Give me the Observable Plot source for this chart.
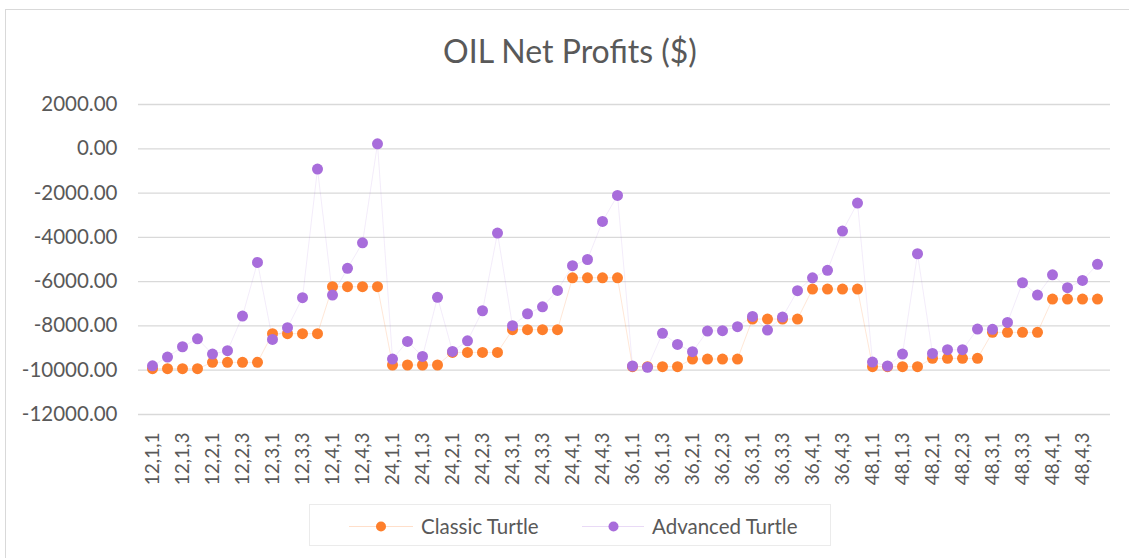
<!DOCTYPE html>
<html>
<head>
<meta charset="utf-8">
<script src="https://cdn.jsdelivr.net/npm/d3@7"></script>
<script src="https://cdn.jsdelivr.net/npm/@observablehq/plot@0.6"></script>
<style>
  html, body { margin: 0; padding: 0; background: #fff; }
  #wrap { position: relative; width: 1129px; height: 558px; overflow: hidden; font-family: Lato, "Open Sans", sans-serif; color: #595959; }
  #frame { position: absolute; left: 5px; top: 9px; width: 1200px; height: 600px; border-left: 1.5px solid #d9d9d9; border-top: 1.5px solid #d9d9d9; }
  #title { position: absolute; left: 0; width: 1140px; top: 30px; text-align: center; font-size: 32px; line-height: 42px; color: #595959; }
  #chart { position: absolute; left: 0; top: 90px; }
  #legend { position: absolute; left: 309px; top: 504px; width: 522px; height: 42px; border: 1px solid #ebebeb; box-sizing: border-box; }
  #legend svg { position: absolute; left: 0; top: 0; }
  .lt { position: absolute; top: 8px; font-size: 20.5px; line-height: 26px; color: #595959; white-space: nowrap; }
</style>
</head>
<body>
<div id="wrap">
  <div id="frame"></div>
  <div id="title">OIL Net Profits ($)</div>
  <div id="chart"></div>
  <div id="legend"></div>
</div>
<script>
const categories = [
  "12,1,1","12,1,2","12,1,3","12,1,4","12,2,1","12,2,2","12,2,3","12,2,4",
  "12,3,1","12,3,2","12,3,3","12,3,4","12,4,1","12,4,2","12,4,3","12,4,4",
  "24,1,1","24,1,2","24,1,3","24,1,4","24,2,1","24,2,2","24,2,3","24,2,4",
  "24,3,1","24,3,2","24,3,3","24,3,4","24,4,1","24,4,2","24,4,3","24,4,4",
  "36,1,1","36,1,2","36,1,3","36,1,4","36,2,1","36,2,2","36,2,3","36,2,4",
  "36,3,1","36,3,2","36,3,3","36,3,4","36,4,1","36,4,2","36,4,3","36,4,4",
  "48,1,1","48,1,2","48,1,3","48,1,4","48,2,1","48,2,2","48,2,3","48,2,4",
  "48,3,1","48,3,2","48,3,3","48,3,4","48,4,1","48,4,2","48,4,3","48,4,4"
];
const classicTurtle = [
  -9930,-9930,-9930,-9930,-9645,-9645,-9645,-9645,
  -8350,-8350,-8350,-8350,-6230,-6230,-6230,-6230,
  -9765,-9765,-9765,-9765,-9195,-9195,-9195,-9195,
  -8170,-8170,-8170,-8170,-5825,-5825,-5825,-5825,
  -9840,-9840,-9840,-9840,-9495,-9495,-9495,-9495,
  -7690,-7690,-7690,-7690,-6335,-6335,-6335,-6335,
  -9840,-9840,-9840,-9840,-9465,-9465,-9465,-9465,
  -8290,-8290,-8290,-8290,-6785,-6785,-6785,-6785
];
const advancedTurtle = [
  -9800,-9405,-8940,-8580,-9270,-9120,-7555,-5130,
  -8610,-8080,-6725,-915,-6605,-5400,-4245,225,
  -9495,-8700,-9375,-6710,-9150,-8670,-7315,-3805,
  -7990,-7450,-7135,-6395,-5280,-5000,-3280,-2105,
  -9810,-9870,-8335,-8835,-9165,-8230,-8215,-8035,
  -7570,-8185,-7600,-6410,-5825,-5490,-3715,-2450,
  -9630,-9810,-9270,-4740,-9240,-9075,-9075,-8140,
  -8155,-7840,-6050,-6605,-5690,-6275,-5945,-5220
];
const yTicks = [-12000,-10000,-8000,-6000,-4000,-2000,0,2000];
const xTickLabels = categories.filter((d, i) => i % 2 === 0);
const seriesNames = ["Classic Turtle", "Advanced Turtle"];
const colors = ["#fe7f2c", "#a86ddb"];

const classicData = categories.map((c, i) => ({cat: c, value: classicTurtle[i]}));
const advancedData = categories.map((c, i) => ({cat: c, value: advancedTurtle[i]}));
const fmt = d => d3.format(".2f")(d).replace("\u2212", "-");

const chart = Plot.plot({
  width: 1129,
  height: 410,
  marginTop: 14,
  marginBottom: 86,
  marginLeft: 138,
  marginRight: 19,
  style: {fontFamily: "Lato, 'Open Sans', sans-serif", fontSize: "20px", color: "#595959", background: "transparent"},
  x: {type: "point", domain: categories, padding: 0.5, label: null},
  y: {domain: [-12000, 2000], label: null},
  marks: [
    Plot.gridY(yTicks, {stroke: "#d9d9d9", strokeOpacity: 1, strokeWidth: 1.3}),
    Plot.axisY(yTicks, {tickSize: 0, tickPadding: 21, tickFormat: fmt, fontSize: 20.5, label: null}),
    Plot.axisX(xTickLabels, {tickSize: 0, tickPadding: 18, tickRotate: -90, fontSize: 19, label: null}),
    Plot.line(classicData, {x: "cat", y: "value", stroke: colors[0], strokeOpacity: 0.25, strokeWidth: 0.75}),
    Plot.line(advancedData, {x: "cat", y: "value", stroke: colors[1], strokeOpacity: 0.18, strokeWidth: 0.75}),
    Plot.dot(classicData, {x: "cat", y: "value", r: 5.5, fill: colors[0], stroke: "none"}),
    Plot.dot(advancedData, {x: "cat", y: "value", r: 5.5, fill: colors[1], stroke: "none"})
  ]
});
document.getElementById("chart").appendChild(chart);

// legend
const legend = document.getElementById("legend");
const ns = "http://www.w3.org/2000/svg";
const lsvg = document.createElementNS(ns, "svg");
lsvg.setAttribute("width", 522);
lsvg.setAttribute("height", 42);
const items = [
  {x1: 39, x2: 103, cx: 71, tx: 111},
  {x1: 272, x2: 334, cx: 303.5, tx: 342}
];
items.forEach((it, i) => {
  const ln = document.createElementNS(ns, "line");
  ln.setAttribute("x1", it.x1); ln.setAttribute("x2", it.x2);
  ln.setAttribute("y1", 21.5); ln.setAttribute("y2", 21.5);
  ln.setAttribute("stroke", colors[i]); ln.setAttribute("stroke-opacity", 0.25);
  ln.setAttribute("stroke-width", 1);
  lsvg.appendChild(ln);
  const c = document.createElementNS(ns, "circle");
  c.setAttribute("cx", it.cx); c.setAttribute("cy", 21.5); c.setAttribute("r", 5);
  c.setAttribute("fill", colors[i]);
  lsvg.appendChild(c);
  const t = document.createElement("div");
  t.className = "lt";
  t.style.left = it.tx + "px";
  t.textContent = seriesNames[i];
  legend.appendChild(t);
});
legend.appendChild(lsvg);
</script>
</body>
</html>
